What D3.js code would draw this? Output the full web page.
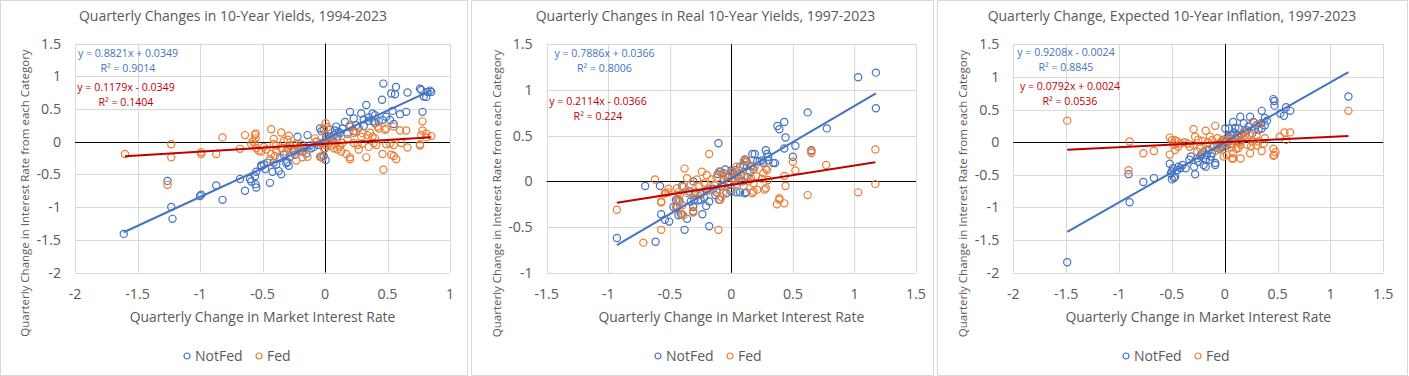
<!DOCTYPE html>
<html>
<head>
<meta charset="utf-8">
<script src="https://cdn.jsdelivr.net/npm/d3@7"></script>
<style>
  body { margin: 0; background: #fff; }
  svg { display: block; font-family: "Open Sans", sans-serif; }
</style>
</head>
<body>
<div id="chart"></div>
<script>
// ---- data ----
const titles = [
    "Quarterly Changes in 10-Year Yields, 1994-2023",
    "Quarterly Changes in Real 10-Year Yields, 1997-2023",
    "Quarterly Change, Expected 10-Year Inflation, 1997-2023"
];
const seriesNames = ["NotFed", "Fed"];
const xTicks1 = [-2, -1.5, -1, -0.5, 0, 0.5, 1];
const yTicks1 = [-2, -1.5, -1, -0.5, 0, 0.5, 1, 1.5];
const xTicks2 = [-1.5, -1, -0.5, 0, 0.5, 1, 1.5];
const yTicks2 = [-1, -0.5, 0, 0.5, 1, 1.5];
const xTicks3 = [-2, -1.5, -1, -0.5, 0, 0.5, 1, 1.5];
const yTicks3 = [-2, -1.5, -1, -0.5, 0, 0.5, 1, 1.5];

// trendline [slope, intercept, r2] for NotFed / Fed
const trend1 = [[0.8821, 0.0349, 0.9014], [0.1179, -0.0349, 0.1404]];
const trend2 = [[0.7886, 0.0366, 0.8006], [0.2114, -0.0366, 0.224]];
const trend3 = [[0.9208, -0.0024, 0.8845], [0.0792, 0.0024, 0.0536]];

const p1NotFed = [[-1.61,-1.41],[-1.23,-1.0],[-1.22,-1.18],[-1.26,-0.60],[-1.0,-0.83],[-0.99,-0.81],[-0.82,-0.89],[-0.87,-0.67],[-0.68,-0.57],[-0.64,-0.75],[-0.60,-0.57],[-0.59,-0.61],[-0.56,-0.53],[-0.555,-0.65],[-0.55,-0.70],[-0.55,-0.46],[-0.51,-0.36],[-0.51,-0.38],[-0.49,-0.35],[-0.48,-0.42],[-0.42,-0.46],[-0.44,-0.63],[-0.46,-0.32],[-0.41,-0.32],[-0.39,-0.35],[-0.37,-0.45],[-0.35,-0.50],[-0.29,-0.37],[-0.31,-0.33],[-0.30,-0.31],[-0.36,-0.25],[-0.33,-0.20],[-0.28,-0.23],[-0.24,-0.20],[-0.28,-0.06],[-0.22,0.075],[-0.14,0.10],[-0.245,-0.15],[-0.25,-0.13],[-0.20,-0.08],[-0.17,-0.10],[-0.11,-0.10],[-0.07,0.0],[-0.04,0.20],[-0.03,0.16],[-0.01,0.18],[0.005,-0.28],[-0.03,-0.23],[-0.09,-0.08],[-0.05,-0.05],[0.01,0.04],[-0.02,-0.02],[0.02,0.01],[0.04,0.07],[0.01,0.075],[0.04,0.05],[0.07,0.10],[0.09,0.23],[0.04,0.18],[0.11,0.15],[0.12,0.13],[0.16,0.30],[0.2,0.23],[0.23,0.16],[0.2,0.455],[0.23,0.355],[0.25,0.25],[0.29,0.43],[0.31,0.34],[0.31,0.24],[0.33,0.56],[0.35,0.32],[0.38,0.43],[0.39,0.31],[0.40,0.405],[0.40,0.28],[0.43,0.31],[0.46,0.33],[0.456,0.64],[0.467,0.887],[0.49,0.38],[0.52,0.33],[0.53,0.735],[0.54,0.47],[0.55,0.27],[0.56,0.725],[0.568,0.836],[0.60,0.42],[0.65,0.455],[0.66,0.75],[0.76,0.81],[0.77,0.79],[0.78,0.455],[0.79,0.69],[0.81,0.68],[0.82,0.76],[0.85,0.76],[0.84,0.78],[0.14,0.20],[0.18,0.12],[0.06,0.02],[0.1,0.08],[-0.12,-0.06],[-0.18,-0.15],[-0.15,-0.18],[0.0,-0.1],[-0.01,-0.22],[0.08,0.17],[0.27,0.21],[0.35,0.37]];
const p1Fed = [[-1.6,-0.19],[-1.23,-0.04],[-1.23,-0.24],[-1.26,-0.66],[-0.99,-0.16],[-0.99,-0.19],[-0.87,-0.19],[-0.82,0.065],[-0.68,-0.11],[-0.64,0.10],[-0.59,-0.04],[-0.58,0.0],[-0.56,-0.03],[-0.555,0.125],[-0.555,0.05],[-0.56,0.10],[-0.55,-0.10],[-0.53,-0.14],[-0.51,-0.15],[-0.49,-0.08],[-0.47,-0.12],[-0.43,0.19],[-0.41,0.04],[-0.41,-0.04],[-0.35,0.14],[-0.33,0.01],[-0.29,0.09],[-0.44,-0.27],[-0.43,-0.19],[-0.40,-0.22],[-0.39,-0.14],[-0.35,-0.10],[-0.39,-0.06],[-0.31,-0.15],[-0.29,-0.10],[-0.27,-0.13],[-0.21,-0.15],[-0.25,-0.05],[-0.23,-0.04],[-0.19,-0.04],[-0.17,-0.14],[-0.14,-0.23],[-0.18,-0.24],[-0.23,-0.29],[-0.30,0.03],[-0.08,0.05],[-0.07,0.0],[-0.03,-0.03],[0.0,-0.05],[-0.01,-0.10],[-0.04,-0.23],[-0.02,-0.25],[0.005,0.28],[-0.01,0.20],[0.01,0.10],[0.02,0.22],[0.03,-0.02],[0.05,-0.06],[0.07,-0.10],[0.08,-0.04],[0.10,-0.12],[0.12,-0.08],[0.14,-0.02],[0.17,-0.19],[0.2,-0.27],[0.2,-0.24],[0.2,0.25],[0.18,0.04],[0.23,0.13],[0.25,0.15],[0.30,0.13],[0.29,0.075],[0.23,-0.02],[0.26,-0.05],[0.30,-0.03],[0.33,-0.24],[0.36,0.135],[0.34,0.10],[0.38,0.075],[0.40,0.05],[0.39,-0.02],[0.41,-0.05],[0.42,0.23],[0.43,0.20],[0.46,-0.19],[0.467,-0.43],[0.48,0.18],[0.49,0.20],[0.49,-0.04],[0.52,-0.03],[0.53,-0.20],[0.55,-0.22],[0.55,0.23],[0.55,-0.05],[0.57,-0.27],[0.6,0.17],[0.61,-0.02],[0.65,0.17],[0.66,-0.09],[0.76,-0.06],[0.76,-0.04],[0.77,0.10],[0.78,0.31],[0.78,0.17],[0.81,0.12],[0.85,0.085],[0.81,0.065],[0.09,0.02],[0.13,-0.15],[0.27,-0.12],[0.35,-0.08]];

const p2NotFed = [[1.174,1.19],[1.03,1.14],[1.174,0.80],[0.62,0.755],[0.43,0.65],[0.374,0.606],[0.39,0.57],[0.44,0.48],[0.776,0.58],[0.43,0.36],[0.52,0.39],[0.50,0.27],[0.65,0.34],[0.28,0.34],[0.17,0.30],[0.19,0.30],[0.29,0.30],[0.30,0.27],[0.30,0.23],[0.34,0.20],[0.355,0.20],[0.25,0.23],[0.26,0.20],[0.11,0.24],[0.125,0.215],[0.04,0.125],[0.07,0.16],[0.10,0.18],[0.07,-0.12],[0.11,-0.13],[0.0,-0.11],[0.04,-0.12],[0.12,-0.12],[0.18,0.13],[0.15,0.10],[0.05,0.05],[0.02,0.08],[0.08,0.07],[-0.105,0.417],[-0.70,-0.05],[-0.58,-0.05],[-0.40,-0.05],[-0.31,0.0],[-0.93,-0.62],[-0.615,-0.66],[-0.18,-0.49],[-0.38,-0.53],[-0.57,-0.36],[-0.54,-0.42],[-0.505,-0.44],[-0.43,-0.37],[-0.36,-0.41],[-0.235,-0.36],[-0.31,-0.28],[-0.205,-0.27],[-0.45,-0.20],[-0.43,-0.20],[-0.42,-0.22],[-0.33,-0.22],[-0.30,-0.20],[-0.27,-0.21],[-0.25,-0.20],[-0.22,-0.18],[-0.18,-0.22],[-0.10,-0.20],[-0.04,-0.13],[-0.13,-0.15],[-0.34,-0.11],[-0.29,-0.12],[-0.25,-0.14],[-0.20,-0.10],[-0.15,-0.08],[-0.12,-0.12],[-0.09,0.105],[-0.065,0.09],[0.0,0.12],[-0.08,-0.05],[-0.06,0.02],[-0.03,0.05],[-0.02,-0.03],[0.03,0.0],[0.06,0.03],[0.09,0.0],[0.13,0.05],[-0.47,-0.28],[-0.44,-0.28],[-0.31,-0.33],[-0.41,-0.36],[0.21,0.22],[0.16,0.17],[-0.11,0.08],[-0.05,0.13],[0.01,0.1],[0.23,0.22]];
const p2Fed = [[1.17,0.35],[1.17,-0.03],[1.03,-0.12],[0.77,0.18],[0.65,0.31],[0.65,0.33],[0.62,-0.15],[0.50,0.215],[0.52,0.12],[0.43,0.06],[0.44,-0.05],[0.39,-0.185],[0.37,-0.25],[0.39,-0.20],[0.43,-0.24],[0.28,0.14],[0.29,0.125],[0.28,-0.075],[0.30,0.015],[0.25,0.03],[0.26,0.09],[0.27,-0.09],[0.17,0.16],[0.19,0.16],[0.10,0.22],[0.12,0.235],[0.17,-0.13],[0.18,-0.11],[0.06,0.12],[0.08,0.08],[0.11,0.05],[0.16,0.04],[0.20,0.06],[0.14,0.0],[0.04,-0.03],[0.10,-0.05],[0.18,-0.02],[0.21,-0.09],[0.02,0.03],[0.05,0.05],[-0.18,0.30],[-0.38,0.14],[-0.62,0.02],[-0.51,-0.08],[-0.53,-0.13],[-0.57,-0.22],[-0.44,-0.075],[-0.39,-0.06],[-0.36,0.035],[-0.24,0.105],[-0.20,0.07],[-0.93,-0.31],[-0.715,-0.67],[-0.57,-0.53],[-0.105,-0.53],[-0.57,-0.23],[-0.44,-0.27],[-0.45,-0.28],[-0.40,-0.36],[-0.31,-0.34],[-0.31,-0.32],[-0.54,-0.13],[-0.51,-0.12],[-0.43,-0.12],[-0.42,-0.15],[-0.35,-0.13],[-0.30,-0.14],[-0.27,-0.15],[-0.24,-0.13],[-0.09,-0.20],[-0.08,-0.17],[-0.065,-0.13],[-0.44,-0.19],[-0.40,-0.26],[-0.39,-0.37],[-0.26,-0.05],[-0.22,-0.02],[-0.16,0.02],[-0.12,0.04],[-0.10,0.11],[-0.08,0.08],[-0.05,0.05],[-0.03,0.0],[-0.14,-0.04],[-0.19,-0.08],[-0.28,0.02],[-0.33,-0.03],[-0.12,-0.09],[-0.06,-0.04],[0.0,-0.08],[0.00,0.1],[0.04,0.16],[-0.02,0.07],[-0.17,-0.10]];

const p3NotFed = [[-1.49,-1.84],[-0.90,-0.92],[-0.91,-0.49],[-0.77,-0.61],[-0.67,-0.55],[-0.52,-0.33],[-0.50,-0.45],[-0.48,-0.55],[-0.47,-0.53],[-0.45,-0.43],[-0.44,-0.375],[-0.42,-0.40],[-0.40,-0.35],[-0.50,-0.57],[-0.49,-0.40],[-0.51,-0.48],[-0.335,-0.27],[-0.29,-0.375],[-0.28,-0.49],[-0.37,-0.40],[-0.26,-0.25],[-0.23,-0.22],[-0.18,-0.375],[-0.17,-0.20],[-0.14,-0.27],[-0.09,-0.35],[-0.12,-0.17],[-0.20,-0.145],[-0.15,-0.12],[-0.11,-0.07],[-0.07,-0.04],[-0.04,-0.02],[-0.01,0.035],[0.005,0.21],[0.08,0.31],[0.05,0.11],[-0.20,-0.35],[-0.18,-0.27],[-0.09,-0.32],[-0.25,-0.30],[-0.22,-0.18],[-0.05,-0.10],[-0.02,-0.06],[0.02,0.02],[0.04,0.05],[0.06,-0.03],[0.1,0.06],[0.12,0.1],[1.17,0.70],[0.46,0.66],[0.47,0.63],[0.47,0.56],[0.58,0.535],[0.62,0.48],[0.56,0.405],[0.525,0.44],[0.35,0.48],[0.38,0.37],[0.40,0.33],[0.345,0.29],[0.38,0.26],[0.35,0.21],[0.147,0.39],[0.24,0.39],[0.18,0.29],[0.27,0.31],[0.30,0.26],[0.225,0.24],[0.13,0.21],[0.04,0.21],[0.19,0.16],[0.26,0.135],[0.32,0.19],[0.07,0.11],[0.13,0.085],[0.16,0.12],[0.21,0.18],[0.09,0.15],[0.03,0.08],[0.0,0.0],[-0.03,-0.08],[0.02,-0.05],[0.15,0.03],[-0.32,-0.22],[-0.13,-0.22],[0.1,0.22],[0.28,0.2]];
const p3Fed = [[-1.49,0.33],[-0.90,0.01],[-0.91,-0.43],[-0.77,-0.17],[-0.67,-0.135],[-0.52,0.07],[-0.50,0.03],[-0.47,0.03],[-0.45,0.01],[-0.48,-0.04],[-0.44,-0.07],[-0.52,-0.19],[-0.47,-0.12],[-0.42,-0.02],[-0.295,0.20],[-0.28,0.085],[-0.18,0.175],[-0.09,0.25],[-0.14,0.085],[-0.23,-0.095],[-0.26,-0.145],[-0.18,-0.12],[-0.33,-0.07],[-0.295,-0.04],[-0.25,0.04],[-0.21,0.02],[-0.16,0.0],[-0.12,0.03],[-0.07,0.06],[-0.04,0.0],[-0.02,0.04],[-0.1,-0.05],[-0.05,-0.08],[-0.01,-0.22],[0.08,-0.25],[-0.35,-0.02],[-0.38,0.0],[0.0,0.03],[0.02,-0.03],[0.04,0.06],[0.05,0.02],[0.07,-0.02],[0.1,0.04],[0.12,0.08],[0.14,0.0],[0.17,0.05],[0.19,0.1],[0.21,0.07],[0.11,-0.1],[0.06,-0.08],[1.17,0.48],[0.565,0.15],[0.62,0.15],[0.52,0.085],[0.58,0.035],[0.46,-0.10],[0.48,-0.155],[0.47,-0.195],[0.46,-0.21],[0.35,-0.135],[0.38,0.06],[0.37,-0.02],[0.32,0.01],[0.30,0.11],[0.24,0.11],[0.26,0.01],[0.21,-0.04],[0.24,-0.17],[0.15,-0.04],[0.08,-0.17],[0.15,-0.25],[0.07,-0.25],[0.02,-0.20],[0.13,-0.09],[0.33,0.28],[0.28,0.3],[0.18,0.16],[-0.08,-0.13],[0.25,-0.06],[0.3,-0.05]];

// ---- layout ----
const W = 1409, H = 376;
const BLUE = "#4472C4", ORANGE = "#ED7D31", RED = "#C00000";
const GRID = "#D9D9D9", TXT = "#595959";

const panels = [
    { box: [0.5, 467], plot: [75, 450, 43.5, 272.5], xDom: [-2, 1], yDom: [-2, 1.5], xTicks: xTicks1, yTicks: yTicks1,
      title: titles[0], titleX: 233, series: [p1NotFed, p1Fed], trend: trend1, eq: [[128, 53], [126, 87]], legendX: 187 },
    { box: [471.5, 462], plot: [546.7, 916, 44.3, 272.8], xDom: [-1.5, 1.5], yDom: [-1, 1.5], xTicks: xTicks2, yTicks: yTicks2,
      title: titles[1], titleX: 705.5, series: [p2NotFed, p2Fed], trend: trend2, eq: [[604.5, 53], [598, 101]], legendX: 658 },
    { box: [937.5, 470], plot: [1013.3, 1383.3, 44.3, 272.7], xDom: [-2, 1.5], yDom: [-2, 1.5], xTicks: xTicks3, yTicks: yTicks3,
      title: titles[2], titleX: 1172, series: [p3NotFed, p3Fed], trend: trend3, eq: [[1066, 52], [1070, 86]], legendX: 1126 }
];

const svg = d3.select("#chart").append("svg")
    .attr("width", W)
    .attr("height", H);

svg.append("rect").attr("width", W).attr("height", H).attr("fill", "#fff");

const fmtEq = (t) => {
    const sign = t[1] < 0 ? " - " : " + ";
    return "y = " + t[0].toFixed(4) + "x" + sign + Math.abs(t[1]).toFixed(4);
};

panels.forEach(function (p) {
    const [px0, px1, py0, py1] = p.plot;
    const x = d3.scaleLinear().domain(p.xDom).range([px0, px1]);
    const y = d3.scaleLinear().domain(p.yDom).range([py1, py0]);
    const g = svg.append("g");

    // panel frame
    g.append("rect")
        .attr("x", p.box[0]).attr("y", 0.5)
        .attr("width", p.box[1]).attr("height", H - 1)
        .attr("fill", "none").attr("stroke", GRID);

    // title
    g.append("text")
        .attr("x", p.titleX).attr("y", 21)
        .attr("text-anchor", "middle")
        .attr("font-size", 14).attr("fill", TXT)
        .text(p.title);

    // gridlines
    g.append("g").selectAll("line").data(p.xTicks).join("line")
        .attr("x1", d => Math.round(x(d)) + 0.5).attr("x2", d => Math.round(x(d)) + 0.5)
        .attr("y1", py0).attr("y2", py1)
        .attr("stroke", GRID);
    g.append("g").selectAll("line").data(p.yTicks).join("line")
        .attr("x1", px0).attr("x2", px1)
        .attr("y1", d => Math.round(y(d)) + 0.5).attr("y2", d => Math.round(y(d)) + 0.5)
        .attr("stroke", GRID);

    // zero axes
    g.append("line")
        .attr("x1", px0).attr("x2", px1)
        .attr("y1", Math.round(y(0)) + 0.5).attr("y2", Math.round(y(0)) + 0.5)
        .attr("stroke", "#000");
    g.append("line")
        .attr("x1", Math.round(x(0)) + 0.5).attr("x2", Math.round(x(0)) + 0.5)
        .attr("y1", py0).attr("y2", py1)
        .attr("stroke", "#000");

    // tick labels
    g.append("g").selectAll("text").data(p.xTicks).join("text")
        .attr("x", d => x(d)).attr("y", py1 + 26)
        .attr("text-anchor", "middle")
        .attr("font-size", 14.2).attr("fill", TXT)
        .text(d => d);
    g.append("g").selectAll("text").data(p.yTicks).join("text")
        .attr("x", px0 - 14).attr("y", d => y(d) + 5)
        .attr("text-anchor", "end")
        .attr("font-size", 14.2).attr("fill", TXT)
        .text(d => d);

    // axis titles
    g.append("text")
        .attr("x", (px0 + px1) / 2).attr("y", 322)
        .attr("text-anchor", "middle")
        .attr("font-size", 13.9).attr("fill", TXT)
        .text("Quarterly Change in Market Interest Rate");
    g.append("text")
        .attr("transform", "translate(" + (px0 - 46) + "," + ((py0 + py1) / 2 + 35) + ") rotate(-90)")
        .attr("text-anchor", "middle")
        .attr("font-size", 11.5).attr("fill", TXT)
        .text("Quarterly Change in Interest Rate from each Category");

    // points
    const colors = [BLUE, ORANGE];
    p.series.forEach(function (pts, i) {
        g.append("g").selectAll("circle").data(pts).join("circle")
            .attr("cx", d => x(d[0])).attr("cy", d => y(d[1]))
            .attr("r", 3.6)
            .attr("fill", "none")
            .attr("stroke", colors[i])
            .attr("stroke-width", 1.2);
    });

    // trendlines over the data's x range
    const lineColors = [BLUE, RED];
    p.series.forEach(function (pts, i) {
        const ext = d3.extent(pts, d => d[0]);
        const t = p.trend[i];
        g.append("line")
            .attr("x1", x(ext[0])).attr("y1", y(t[0] * ext[0] + t[1]))
            .attr("x2", x(ext[1])).attr("y2", y(t[0] * ext[1] + t[1]))
            .attr("stroke", lineColors[i])
            .attr("stroke-width", 2);
    });

    // equation labels
    p.trend.forEach(function (t, i) {
        const lab = g.append("text")
            .attr("text-anchor", "middle")
            .attr("font-size", 10.6)
            .attr("fill", lineColors[i]);
        lab.append("tspan").attr("x", p.eq[i][0]).attr("y", p.eq[i][1] + 4).text(fmtEq(t));
        lab.append("tspan").attr("x", p.eq[i][0]).attr("y", p.eq[i][1] + 19).text("R\u00B2 = " + t[2]);
    });

    // legend
    const leg = g.append("g").attr("transform", "translate(" + p.legendX + ",356)");
    seriesNames.forEach(function (name, i) {
        const off = i === 0 ? 0 : 72;
        leg.append("circle")
            .attr("cx", off).attr("cy", 0).attr("r", 3)
            .attr("fill", "none").attr("stroke", colors[i]).attr("stroke-width", 1.2);
        leg.append("text")
            .attr("x", off + 8).attr("y", 5)
            .attr("font-size", 14).attr("fill", TXT)
            .text(name);
    });
});
</script>
</body>
</html>
